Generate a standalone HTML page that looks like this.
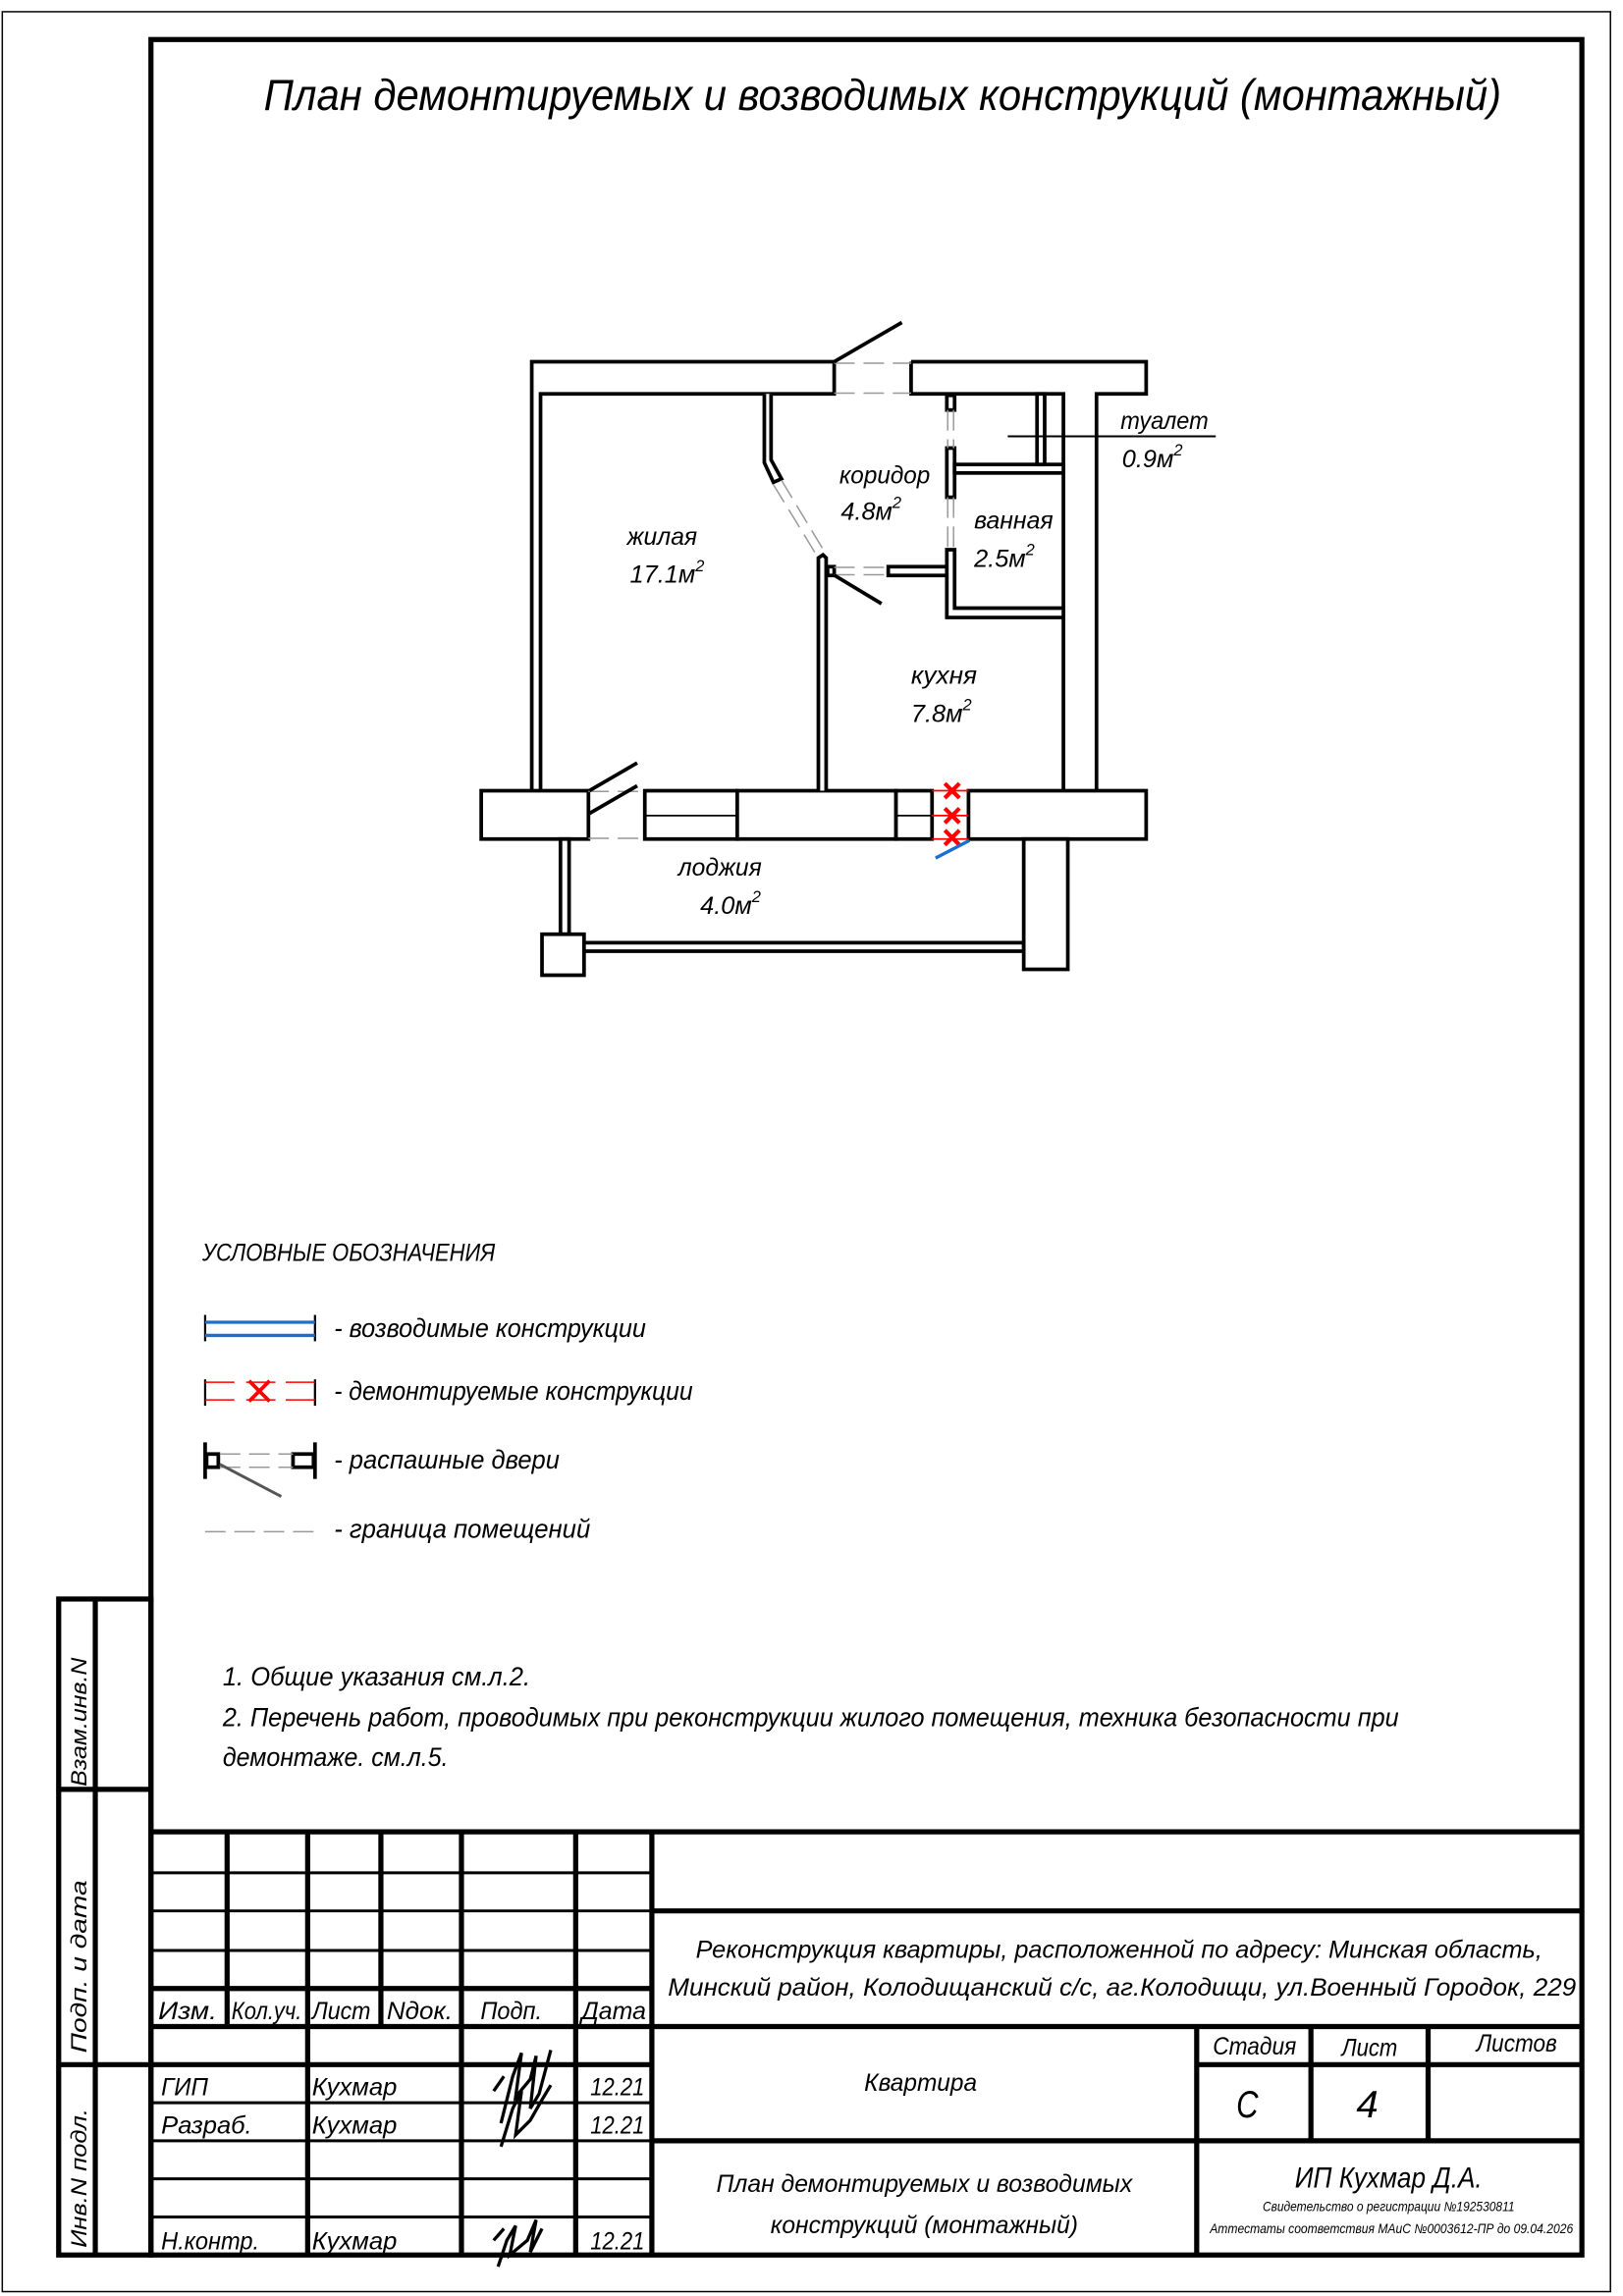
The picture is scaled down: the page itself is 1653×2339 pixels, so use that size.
<!DOCTYPE html>
<html><head><meta charset="utf-8"><style>
html,body{margin:0;padding:0;background:#fff}
svg{display:block}
text{font-family:"Liberation Sans","DejaVu Sans",sans-serif;font-style:italic;fill:#000}
</style></head><body>
<svg width="1653" height="2339" viewBox="0 0 1108 1568" xmlns="http://www.w3.org/2000/svg">
<rect x="0" y="0" width="1108" height="1568" fill="#fff"/>
<!-- outer thin border -->
<rect x="1.5" y="8" width="1098" height="1557" fill="none" stroke="#000" stroke-width="1"/>
<!-- main frame -->
<rect x="103" y="27" width="977" height="1513" fill="none" stroke="#000" stroke-width="3.5"/>
<!-- side stamp -->
<g stroke="#000" stroke-width="3.5" fill="none">
<rect x="40" y="1092" width="63" height="448"/>
<line x1="65" y1="1092" x2="65" y2="1540"/>
<line x1="40" y1="1222" x2="103" y2="1222"/>
<line x1="40" y1="1410" x2="103" y2="1410"/>
</g>
<text transform="translate(59,1220) rotate(-90)" font-size="15" textLength="88" lengthAdjust="spacingAndGlyphs">Взам.инв.N</text>
<text transform="translate(59,1402) rotate(-90)" font-size="15" textLength="118" lengthAdjust="spacingAndGlyphs">Подп. и дата</text>
<text transform="translate(59,1535) rotate(-90)" font-size="15" textLength="95" lengthAdjust="spacingAndGlyphs">Инв.N подл.</text>

<!-- title -->
<text x="180" y="75" font-size="30" textLength="845" lengthAdjust="spacingAndGlyphs">План  демонтируемых  и  возводимых  конструкций (монтажный)</text>

<!-- PLAN -->
<g stroke="#000" stroke-width="2.5" fill="#fff">
<!-- top-left wall -->
<path d="M363,540 L363,247 L569.5,247 L569.5,269 L369,269 L369,540"/>
<!-- top-right wall + right wall -->
<path d="M622,247 L782.5,247 L782.5,269 L748.6,269 L748.6,540"/>
<path d="M622,247 L622,269 L726,269 L726,540"/>
<!-- bottom wall blocks -->
<rect x="328.5" y="540" width="73.2" height="33"/>
<rect x="440.2" y="540" width="63.1" height="33"/>
<rect x="503.3" y="540" width="108.4" height="33"/>
<rect x="611.7" y="540" width="24.6" height="33"/>
<rect x="661.2" y="540" width="121.3" height="33"/>
<!-- diagonal partition -->
<path d="M521.8,269 L521.8,316 L528,329.4 L533.5,327 L526.4,314 L526.4,269" />
<!-- living/kitchen partition -->
<path d="M558.7,540 L558.7,381 L561.8,378.9 L564,381 L564,540"/>
<!-- corridor door stub -->
<rect x="565" y="387" width="4.5" height="6"/>
<rect x="606.4" y="387" width="40" height="6"/>
<!-- bathroom partition segments -->
<rect x="646.4" y="270" width="5.3" height="10"/>
<rect x="646.4" y="306" width="5.3" height="33.6"/>
<path d="M646.4,375.4 L651.7,375.4 L651.7,415.3 L726,415.3 L726,421.7 L646.4,421.7 Z"/>
<rect x="651.7" y="317.2" width="74.3" height="5.8"/>
<rect x="708" y="269" width="5.2" height="48.2"/>
<!-- loggia -->
<rect x="382.6" y="573" width="5.9" height="65"/>
<rect x="370" y="638" width="28.7" height="28"/>
<rect x="398.7" y="643.8" width="300.2" height="5.8"/>
<rect x="698.9" y="573" width="30.1" height="89"/>
</g>
<g stroke="#000" stroke-width="1.2">
<line x1="440.2" y1="557" x2="503.3" y2="557"/>
<line x1="611.7" y1="557" x2="636.3" y2="557"/>
</g>
<!-- gray dashed openings -->
<g stroke="#999" stroke-width="1" stroke-dasharray="14,6" fill="none">
<line x1="569.5" y1="248" x2="622" y2="248"/>
<line x1="569.5" y1="268.5" x2="622" y2="268.5"/>
<line x1="401.7" y1="540.5" x2="440.2" y2="540.5"/>
<line x1="401.7" y1="572.5" x2="440.2" y2="572.5"/>
<line x1="569.5" y1="387.5" x2="606.4" y2="387.5"/>
<line x1="569.5" y1="392.5" x2="606.4" y2="392.5"/>
<line x1="647" y1="280" x2="647" y2="306"/>
<line x1="651" y1="280" x2="651" y2="306"/>
<line x1="647" y1="339.6" x2="647" y2="375.4"/>
<line x1="651" y1="339.6" x2="651" y2="375.4"/>
<line x1="528" y1="331" x2="558" y2="380"/>
<line x1="533.5" y1="328" x2="563" y2="377"/>
</g>
<!-- door swings -->
<g stroke="#000" stroke-width="2.5">
<line x1="569.5" y1="247" x2="615.7" y2="220.2"/>
<line x1="402.3" y1="540" x2="435" y2="521"/>
<line x1="402.3" y1="555.6" x2="435" y2="536.6"/>
<line x1="569.5" y1="392.8" x2="601.8" y2="412.3"/>
</g>
<!-- toilet leader -->
<line x1="688" y1="298" x2="830" y2="298" stroke="#000" stroke-width="1.3"/>
<!-- demolished -->
<g stroke="#f00" stroke-width="1.2">
<line x1="636.3" y1="540" x2="661.2" y2="540"/>
<line x1="636.3" y1="557" x2="661.2" y2="557"/>
<line x1="636.3" y1="573" x2="661.2" y2="573"/>
</g>
<g stroke="#f00" stroke-width="2.8">
<path d="M645,535 L655,545 M655,535 L645,545"/>
<path d="M645,552 L655,562 M655,552 L645,562"/>
<path d="M645,567 L655,577 M655,567 L645,577"/>
</g>
<line x1="638.7" y1="586" x2="661.8" y2="574" stroke="#1a6fd0" stroke-width="2.2"/>

<!-- room labels -->
<g font-size="17">
<text x="428" y="372" textLength="48" lengthAdjust="spacingAndGlyphs">жилая</text>
<text x="430" y="398">17.1м<tspan font-size="11" dy="-8">2</tspan></text>
<text x="573" y="330" textLength="62" lengthAdjust="spacingAndGlyphs">коридор</text>
<text x="574" y="355">4.8м<tspan font-size="11" dy="-8">2</tspan></text>
<text x="665" y="361" textLength="54" lengthAdjust="spacingAndGlyphs">ванная</text>
<text x="665" y="387">2.5м<tspan font-size="11" dy="-8">2</tspan></text>
<text x="765" y="293" textLength="60" lengthAdjust="spacingAndGlyphs">туалет</text>
<text x="766" y="319">0.9м<tspan font-size="11" dy="-8">2</tspan></text>
<text x="622" y="467" textLength="45" lengthAdjust="spacingAndGlyphs">кухня</text>
<text x="622" y="493">7.8м<tspan font-size="11" dy="-8">2</tspan></text>
<text x="463" y="598" textLength="57" lengthAdjust="spacingAndGlyphs">лоджия</text>
<text x="478" y="624">4.0м<tspan font-size="11" dy="-8">2</tspan></text>
</g>

<!-- legend -->
<text x="138" y="861" font-size="17" textLength="200" lengthAdjust="spacingAndGlyphs">УСЛОВНЫЕ ОБОЗНАЧЕНИЯ</text>
<g stroke="#000" stroke-width="1.5">
<line x1="140" y1="898" x2="140" y2="916"/><line x1="215" y1="898" x2="215" y2="916"/>
<line x1="140" y1="942" x2="140" y2="960"/><line x1="215" y1="942" x2="215" y2="960"/>
</g>
<g stroke="#1a6fd0" stroke-width="2.2">
<line x1="140" y1="903" x2="215" y2="903"/><line x1="140" y1="912" x2="215" y2="912"/>
</g>
<g stroke="#f00" stroke-width="1">
<line x1="140" y1="944" x2="160" y2="944"/><line x1="140" y1="956" x2="160" y2="956"/>
<line x1="168" y1="944" x2="188" y2="944"/><line x1="168" y1="956" x2="188" y2="956"/>
<line x1="195" y1="944" x2="215" y2="944"/><line x1="195" y1="956" x2="215" y2="956"/>
</g>
<path d="M170,943 L184,957 M184,943 L170,957" stroke="#f00" stroke-width="2.5"/>
<g stroke="#000" stroke-width="2.5" fill="none">
<line x1="140" y1="985" x2="140" y2="1010"/>
<rect x="141" y="993" width="8" height="9"/>
<rect x="200" y="993" width="14" height="9"/>
<line x1="215" y1="985" x2="215" y2="1010"/>
</g>
<g stroke="#999" stroke-width="1" stroke-dasharray="14,6">
<line x1="150" y1="993" x2="200" y2="993"/><line x1="150" y1="1002" x2="200" y2="1002"/>
<line x1="140" y1="1046" x2="215" y2="1046"/>
</g>
<line x1="150" y1="1000" x2="192" y2="1022" stroke="#555" stroke-width="2"/>
<g font-size="18">
<text x="228" y="913" textLength="213" lengthAdjust="spacingAndGlyphs">- возводимые конструкции</text>
<text x="228" y="956" textLength="245" lengthAdjust="spacingAndGlyphs">- демонтируемые конструкции</text>
<text x="228" y="1003" textLength="154" lengthAdjust="spacingAndGlyphs">- распашные двери</text>
<text x="228" y="1050" textLength="175" lengthAdjust="spacingAndGlyphs">- граница помещений</text>
</g>

<!-- notes -->
<g font-size="18">
<text x="152" y="1151" textLength="210" lengthAdjust="spacingAndGlyphs">1.  Общие указания см.л.2.</text>
<text x="152" y="1179" textLength="803" lengthAdjust="spacingAndGlyphs">2.  Перечень работ, проводимых при реконструкции жилого помещения, техника безопасности при</text>
<text x="152" y="1206" textLength="154" lengthAdjust="spacingAndGlyphs">демонтаже. см.л.5.</text>
</g>

<!-- title block -->
<g stroke="#000" stroke-width="3.5" fill="none">
<line x1="103" y1="1251" x2="1080" y2="1251"/>
<line x1="445" y1="1305" x2="1080" y2="1305"/>
<line x1="103" y1="1384" x2="1080" y2="1384"/>
<line x1="445" y1="1462" x2="1080" y2="1462"/>
<line x1="103" y1="1358" x2="445" y2="1358"/>
<line x1="103" y1="1410" x2="445" y2="1410"/>
<line x1="817" y1="1410" x2="1080" y2="1410"/>
<line x1="445" y1="1251" x2="445" y2="1540"/>
<line x1="817" y1="1384" x2="817" y2="1540"/>
<line x1="895" y1="1384" x2="895" y2="1462"/>
<line x1="975" y1="1384" x2="975" y2="1462"/>
<line x1="155" y1="1251" x2="155" y2="1384"/>
<line x1="210" y1="1251" x2="210" y2="1540"/>
<line x1="260" y1="1251" x2="260" y2="1384"/>
<line x1="315" y1="1251" x2="315" y2="1540"/>
<line x1="393" y1="1251" x2="393" y2="1540"/>
</g>
<g stroke="#000" stroke-width="2">
<line x1="103" y1="1279" x2="445" y2="1279"/>
<line x1="103" y1="1305" x2="445" y2="1305"/>
<line x1="103" y1="1332" x2="445" y2="1332"/>
<line x1="103" y1="1436" x2="445" y2="1436"/>
<line x1="103" y1="1462" x2="445" y2="1462"/>
<line x1="103" y1="1488" x2="445" y2="1488"/>
<line x1="103" y1="1514" x2="445" y2="1514"/>
</g>
<g font-size="17">
<text x="108" y="1379" textLength="40" lengthAdjust="spacingAndGlyphs">Изм.</text>
<text x="158" y="1379" textLength="48" lengthAdjust="spacingAndGlyphs">Кол.уч.</text>
<text x="213" y="1379" textLength="40" lengthAdjust="spacingAndGlyphs">Лист</text>
<text x="264" y="1379" textLength="45" lengthAdjust="spacingAndGlyphs">Nдок.</text>
<text x="328" y="1379" textLength="42" lengthAdjust="spacingAndGlyphs">Подп.</text>
<text x="397" y="1379" textLength="44" lengthAdjust="spacingAndGlyphs">Дата</text>
<text x="110" y="1431" textLength="32" lengthAdjust="spacingAndGlyphs">ГИП</text>
<text x="213" y="1431" textLength="58" lengthAdjust="spacingAndGlyphs">Кухмар</text>
<text x="403" y="1431" textLength="37" lengthAdjust="spacingAndGlyphs">12.21</text>
<text x="110" y="1457" textLength="62" lengthAdjust="spacingAndGlyphs">Разраб.</text>
<text x="213" y="1457" textLength="58" lengthAdjust="spacingAndGlyphs">Кухмар</text>
<text x="403" y="1457" textLength="37" lengthAdjust="spacingAndGlyphs">12.21</text>
<text x="110" y="1536" textLength="67" lengthAdjust="spacingAndGlyphs">Н.контр.</text>
<text x="213" y="1536" textLength="58" lengthAdjust="spacingAndGlyphs">Кухмар</text>
<text x="403" y="1536" textLength="37" lengthAdjust="spacingAndGlyphs">12.21</text>
<text x="475" y="1337" textLength="578" lengthAdjust="spacingAndGlyphs">Реконструкция квартиры, расположенной по адресу: Минская область,</text>
<text x="456" y="1363" textLength="620" lengthAdjust="spacingAndGlyphs">Минский район, Колодищанский с/с, аг.Колодищи, ул.Военный Городок, 229</text>
<text x="590" y="1428" textLength="77" lengthAdjust="spacingAndGlyphs">Квартира</text>
<text x="828" y="1403" textLength="57" lengthAdjust="spacingAndGlyphs">Стадия</text>
<text x="916" y="1404" textLength="38" lengthAdjust="spacingAndGlyphs">Лист</text>
<text x="1008" y="1401" textLength="55" lengthAdjust="spacingAndGlyphs">Листов</text>
<text x="489" y="1497" textLength="284" lengthAdjust="spacingAndGlyphs">План демонтируемых и возводимых</text>
<text x="526" y="1525" textLength="210" lengthAdjust="spacingAndGlyphs">конструкций (монтажный)</text>
</g>
<text x="844" y="1446" font-size="26" textLength="15" lengthAdjust="spacingAndGlyphs">С</text>
<text x="926" y="1446" font-size="26" textLength="15" lengthAdjust="spacingAndGlyphs">4</text>
<text x="884" y="1494" font-size="20" textLength="128" lengthAdjust="spacingAndGlyphs">ИП Кухмар Д.А.</text>
<text x="862" y="1510" font-size="9" textLength="172" lengthAdjust="spacingAndGlyphs">Свидетельство о регистрации №192530811</text>
<text x="826" y="1525" font-size="9" textLength="248" lengthAdjust="spacingAndGlyphs">Аттестаты соответствия МАиС №0003612-ПР до 09.04.2026</text>
<!-- signatures -->
<g stroke="#000" stroke-width="2.2" fill="none">
<path d="M342,1450 L350,1418 L356,1402 L352,1432 L362,1420 L366,1404 L362,1440 L368,1430 L376,1400"/>
<path d="M337,1428 L344,1418"/>
<path d="M342,1466 L350,1440 L356,1428 L352,1458 L362,1448 L370,1434 L376,1424"/>
<path d="M340,1548 L346,1530 L352,1520 L348,1540 L360,1530 L366,1516 L362,1538 L370,1522"/>
<path d="M337,1530 L344,1522"/>
</g>
</svg>
</body></html>
